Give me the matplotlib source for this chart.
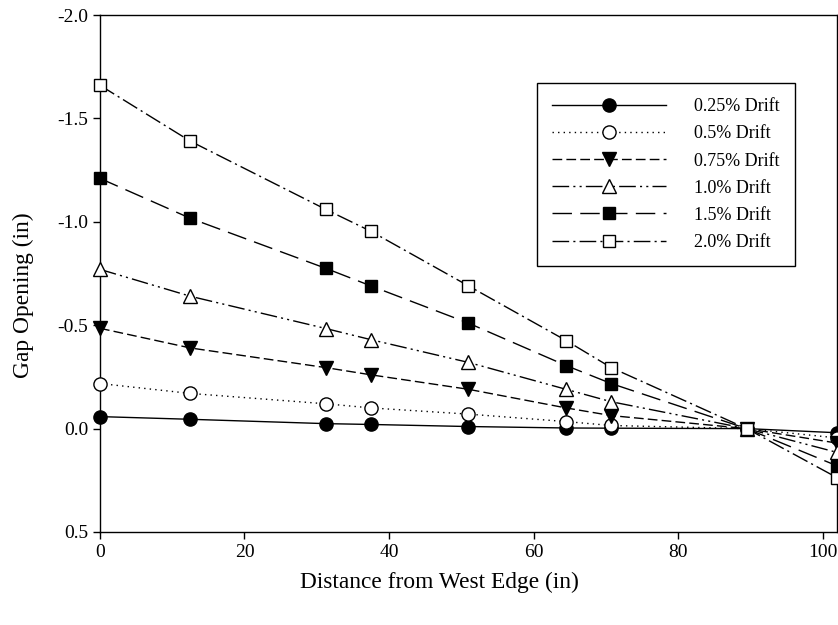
import numpy as np
import matplotlib.pyplot as plt

plt.rcParams['font.family'] = ['Liberation Serif', 'DejaVu Serif']

# distance from west edge (in)
distance = [0, 12.5, 31.25, 37.5, 51, 64.5, 70.75, 89.5, 102]

# gap opening (in) for each drift level
drift_025 = [-0.058, -0.045, -0.024, -0.020, -0.010, -0.003, -0.002, 0.0, 0.020]
drift_05 = [-0.218, -0.170, -0.120, -0.100, -0.070, -0.034, -0.015, 0.0, 0.045]
drift_075 = [-0.485, -0.390, -0.295, -0.260, -0.190, -0.100, -0.063, 0.0, 0.070]
drift_10 = [-0.770, -0.640, -0.484, -0.430, -0.320, -0.190, -0.130, 0.0, 0.115]
drift_15 = [-1.210, -1.017, -0.775, -0.690, -0.510, -0.305, -0.218, 0.0, 0.180]
drift_20 = [-1.660, -1.390, -1.060, -0.954, -0.690, -0.426, -0.295, 0.0, 0.237]

labels = ['0.25% Drift', '0.5% Drift', '0.75% Drift', '1.0% Drift', '1.5% Drift', '2.0% Drift']


def main():
    fig = plt.figure(figsize=(8.38, 6.25), dpi=100)
    ax = fig.add_axes([0.1193, 0.1488, 0.8795, 0.8272])

    series = [drift_025, drift_05, drift_075, drift_10, drift_15, drift_20]
    styles = [
        dict(linestyle='-', marker='o', markerfacecolor='black', markersize=9.5),
        dict(linestyle=(0, (1, 3)), marker='o', markerfacecolor='white', markersize=9.5),
        dict(linestyle=(0, (7, 3)), marker='v', markerfacecolor='black', markersize=10),
        dict(linestyle=(0, (12, 3, 1.5, 3, 1.5, 3)), marker='^', markerfacecolor='white', markersize=10),
        dict(linestyle=(0, (14, 6)), marker='s', markerfacecolor='black', markersize=8),
        dict(linestyle=(0, (12, 3, 1.5, 3)), marker='s', markerfacecolor='white', markersize=8),
    ]
    for vals, lab, st in zip(series, labels, styles):
        ax.plot(distance, vals, color='black', linewidth=1.0, markeredgecolor='black',
                markeredgewidth=1.0, label=lab, clip_on=False, zorder=3, **st)

    ax.set_xlim(0, 102)
    ax.set_ylim(0.5, -2.0)
    ax.set_xticks([0, 20, 40, 60, 80, 100])
    ax.set_yticks([0.5, 0.0, -0.5, -1.0, -1.5, -2.0])
    ax.set_yticklabels(['0.5', '0.0', '-0.5', '-1.0', '-1.5', '-2.0'])
    ax.tick_params(direction='out', length=5, width=1, labelsize=14, top=False, right=False)
    for sp in ax.spines.values():
        sp.set_linewidth(1.0)

    ax.set_xlabel('Distance from West Edge (in)', fontsize=16.8)
    ax.xaxis.set_label_coords(0.46, -0.077)
    ax.set_ylabel('Gap Opening (in)', fontsize=16.8)
    ax.yaxis.set_label_coords(-0.09, 0.458)

    leg = ax.legend(loc='upper left', bbox_to_anchor=(0.593, 0.8685), fontsize=13,
                    handlelength=6.3, handletextpad=1.55, labelspacing=0.56,
                    borderpad=0.85, borderaxespad=0, fancybox=False,
                    edgecolor='black', framealpha=1)
    leg.get_frame().set_linewidth(1.0)

    fig.savefig('out.png', dpi=100)


if __name__ == '__main__':
    main()
